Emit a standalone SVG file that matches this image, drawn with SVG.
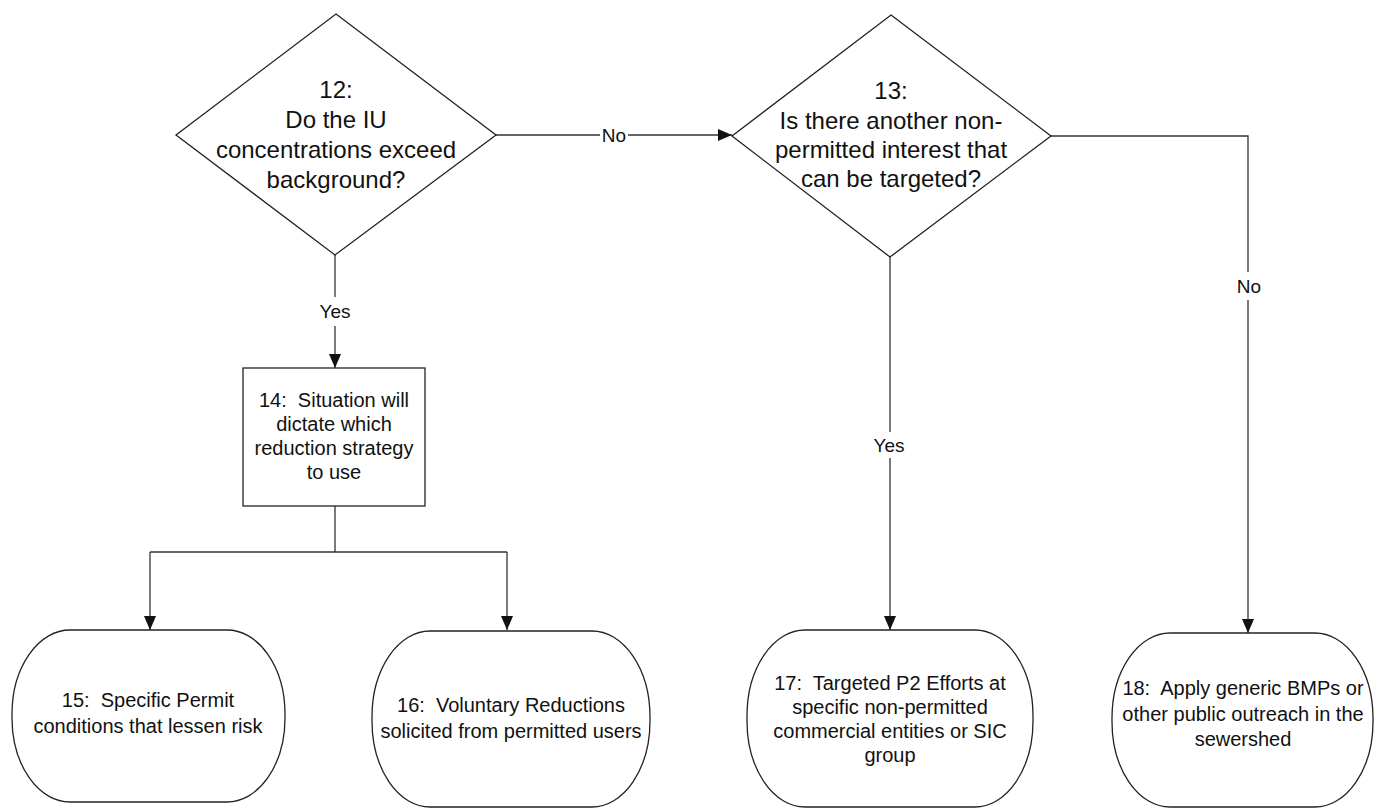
<svg xmlns="http://www.w3.org/2000/svg" width="1374" height="810" viewBox="0 0 1374 810">
<defs>
<style>
.shape{fill:#fff;stroke:#222;stroke-width:1.3}
.conn{fill:none;stroke:#333;stroke-width:1.3}
text{font-family:"Liberation Sans",Arial,sans-serif;fill:#111;text-anchor:middle;white-space:pre}
.big{font-size:24px}
.mid{font-size:20px}
.lbl{font-size:19px}
</style>
<marker id="arr" viewBox="0 0 14 12" refX="14" refY="6" markerWidth="14" markerHeight="12" markerUnits="userSpaceOnUse" orient="auto">
<path d="M0,0 L14,6 L0,12 Z" fill="#111"/>
</marker>
</defs>
<rect width="1374" height="810" fill="#fff"/>
<g id="connectors">
<path class="conn" d="M496,135 H600"/>
<path class="conn" d="M628,135 H732" marker-end="url(#arr)"/>
<path class="conn" d="M335,255 V297"/>
<path class="conn" d="M335,326 V368" marker-end="url(#arr)"/>
<path class="conn" d="M335,506 V552"/>
<path class="conn" d="M150,552 H507"/>
<path class="conn" d="M150,552 V630" marker-end="url(#arr)"/>
<path class="conn" d="M507,552 V630" marker-end="url(#arr)"/>
<path class="conn" d="M890,257 V432"/>
<path class="conn" d="M890,458 V630" marker-end="url(#arr)"/>
<path class="conn" d="M1051,136 H1248 V272"/>
<path class="conn" d="M1248,300 V633" marker-end="url(#arr)"/>
<text class="lbl" x="614" y="142">No</text>
<text class="lbl" x="335" y="318">Yes</text>
<text class="lbl" x="889" y="452">Yes</text>
<text class="lbl" x="1249" y="293">No</text>
</g>
<g id="n12">
<polygon class="shape" points="336,14 496,135 335,255 176,135"/>
<text class="big" x="336" y="98">12:</text>
<text class="big" x="336" y="128">Do the IU</text>
<text class="big" x="336" y="158">concentrations exceed</text>
<text class="big" x="336" y="188">background?</text>
</g>
<g id="n13">
<polygon class="shape" points="891,15 1051,136 890,257 732,136"/>
<text class="big" x="891" y="99">13:</text>
<text class="big" x="891" y="129">Is there another non-</text>
<text class="big" x="891" y="158">permitted interest that</text>
<text class="big" x="891" y="187">can be targeted?</text>
</g>
<g id="n14">
<rect class="shape" x="243" y="368" width="182" height="138"/>
<text class="mid" x="334" y="407">14:  Situation will</text>
<text class="mid" x="334" y="431">dictate which</text>
<text class="mid" x="334" y="455">reduction strategy</text>
<text class="mid" x="334" y="479">to use</text>
</g>
<g id="n15">
<rect class="shape" x="12" y="630" width="273" height="172" rx="58" ry="84"/>
<text class="mid" x="148" y="707">15:  Specific Permit</text>
<text class="mid" x="148" y="733">conditions that lessen risk</text>
</g>
<g id="n16">
<rect class="shape" x="372" y="631" width="278" height="176" rx="58" ry="86"/>
<text class="mid" x="511" y="712">16:  Voluntary Reductions</text>
<text class="mid" x="511" y="738">solicited from permitted users</text>
</g>
<g id="n17">
<rect class="shape" x="747" y="630" width="286" height="177" rx="58" ry="86"/>
<text class="mid" x="890" y="690">17:  Targeted P2 Efforts at</text>
<text class="mid" x="890" y="714">specific non-permitted</text>
<text class="mid" x="890" y="738">commercial entities or SIC</text>
<text class="mid" x="890" y="762">group</text>
</g>
<g id="n18">
<rect class="shape" x="1112" y="633" width="261" height="174" rx="58" ry="85"/>
<text class="mid" x="1243" y="695">18:  Apply generic BMPs or</text>
<text class="mid" x="1243" y="721">other public outreach in the</text>
<text class="mid" x="1243" y="746">sewershed</text>
</g>
</svg>
